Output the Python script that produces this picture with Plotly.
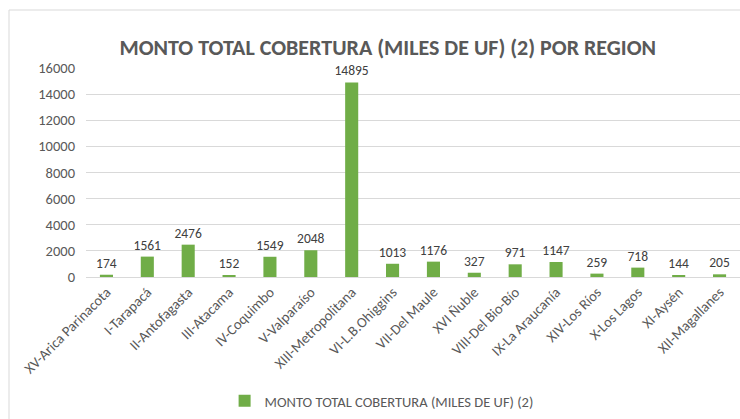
import plotly.graph_objects as go

regions = ["XV-Arica Parinacota", "I-Tarapacá", "II-Antofagasta", "III-Atacama",
           "IV-Coquimbo", "V-Valparaíso", "XIII-Metropolitana", "VI-L.B.Ohiggins",
           "VII-Del Maule", "XVI Ñuble", "VIII-Del Bio-Bío", "IX-La Araucanía",
           "XIV-Los Ríos", "X-Los Lagos", "XI-Aysén", "XII-Magallanes"]
monto = [174, 1561, 2476, 152, 1549, 2048, 14895, 1013,
         1176, 327, 971, 1147, 259, 718, 144, 205]
series_name = "MONTO TOTAL COBERTURA (MILES DE UF) (2)"
title_text = "MONTO TOTAL COBERTURA (MILES DE UF) (2) POR REGION"
y_ticks = [0, 2000, 4000, 6000, 8000, 10000, 12000, 14000, 16000]

FONT = "Carlito, Open Sans, sans-serif"
GREY = "#595959"

fig = go.Figure()
fig.add_trace(go.Bar(
    x=regions, y=monto, name=series_name,
    marker=dict(color="#70AD47", line=dict(width=0)),
    text=[str(v) for v in monto], textposition="outside",
    textfont=dict(family=FONT, size=13.5, color="#404040"),
    constraintext="none",
    cliponaxis=False, showlegend=True,
))

fig.update_layout(
    width=740, height=419,
    margin=dict(l=86, r=0, t=68, b=142),
    paper_bgcolor="white", plot_bgcolor="white",
    bargap=0.68,
    title=dict(text="<b>" + title_text + "</b>", x=0.524, xanchor="center",
               y=0.888, yanchor="middle",
               font=dict(family=FONT, size=22, color=GREY)),
    font=dict(family=FONT, color=GREY),
    showlegend=True,
    legend=dict(orientation="h", x=0.452, xanchor="center", y=-0.593, yanchor="middle",
                font=dict(family=FONT, size=14.5, color=GREY), itemwidth=30),
    xaxis=dict(tickangle=-45, tickfont=dict(family=FONT, size=14.5, color=GREY),
               showline=True, linecolor="#d9d9d9", linewidth=1, ticks="",
               showgrid=False, automargin=False),
    yaxis=dict(range=[0, 16000], tickvals=y_ticks, ticktext=[str(t) for t in y_ticks],
               tickfont=dict(family=FONT, size=14.5, color=GREY),
               showgrid=True, gridcolor="#d9d9d9", gridwidth=1, zeroline=False,
               showline=False, ticks="", ticklabelstandoff=10, automargin=False),
    shapes=[dict(type="rect", xref="paper", yref="paper",
                 x0=(9 - 86) / 654, x1=1.05, y0=-1.0, y1=1 + (68 - 10) / 209,
                 line=dict(color="#d9d9d9", width=1), fillcolor="rgba(0,0,0,0)",
                 layer="below")],
)

fig.write_html("out.html",
               config={"displayModeBar": False},
               post_script="document.body.style.margin='0';document.body.style.overflow='hidden';")
